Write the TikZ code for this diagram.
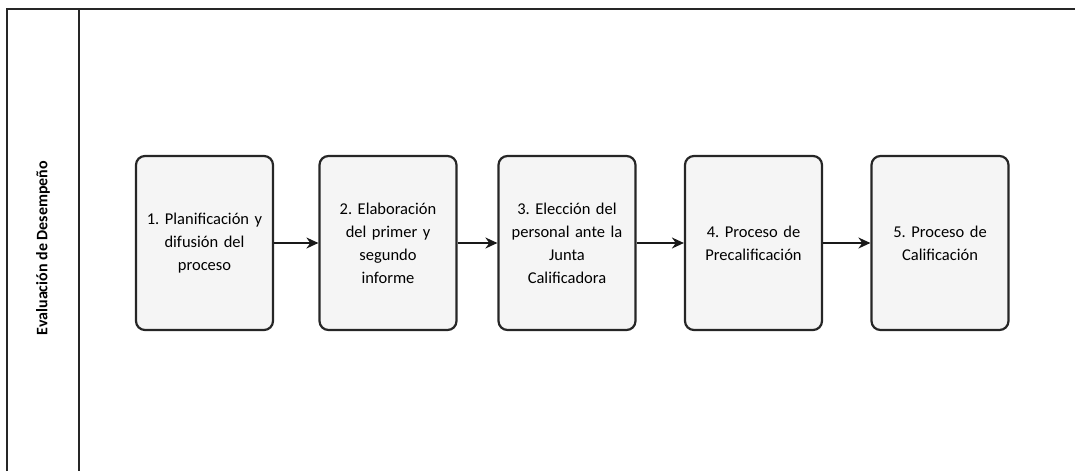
\documentclass[tikz,border=0pt]{standalone}
\usepackage{fontspec}
\setmainfont{Carlito}
\frenchspacing
\usetikzlibrary{arrows.meta}
\begin{document}
\begin{tikzpicture}[x=1pt,y=-1pt,
  stepbox/.style={draw=black!85,line width=2.2pt,rounded corners=9pt,fill=black!4,
    minimum width=137pt,minimum height=174pt,align=center,text width=130pt,
    font=\fontsize{16.5}{23}\selectfont,inner sep=0pt},
  flow/.style={-{Stealth[length=12pt,width=11pt]},line width=1.8pt,black!90},
  frame/.style={line width=1.8pt,black!85}]
\useasboundingbox (0,0) rectangle (1075,471);
% pool frame and lane header
\draw[frame] (7,471) -- (7,9) -- (1075,9);
\draw[frame] (79,9) -- (79,471);
\node[rotate=90,font=\fontsize{16}{18}\selectfont\bfseries] (lane) at (43,248) {Evaluación de Desempeño};
% process steps
\node[stepbox] (s1) at (204.5,243) {1. Planificación y\\difusión del\\proceso};
\node[stepbox] (s2) at (388,243) {2. Elaboración\\del primer y\\segundo\\informe};
\node[stepbox] (s3) at (567,243) {3. Elección del\\personal ante la\\Junta\\Calificadora};
\node[stepbox] (s4) at (753.5,243) {4. Proceso de\\Precalificación};
\node[stepbox] (s5) at (940,243) {5. Proceso de\\Calificación};
% sequence arrows
\draw[flow] (s1) -- (s2);
\draw[flow] (s2) -- (s3);
\draw[flow] (s3) -- (s4);
\draw[flow] (s4) -- (s5);
\end{tikzpicture}
\end{document}
